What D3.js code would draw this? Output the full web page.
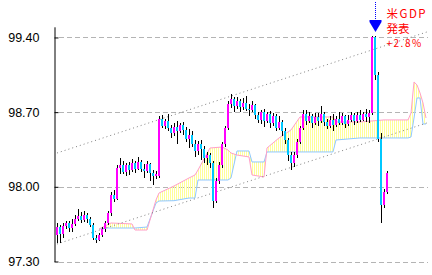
<!DOCTYPE html>
<html>
<head>
<meta charset="utf-8">
<script src="https://cdn.jsdelivr.net/npm/d3@7"></script>
<style>
  body { margin: 0; background: #fff; }
</style>
</head>
<body>
<svg id="chart" width="432" height="275"></svg>
<script>
// candles, one per bar (index 0..110)
const opens = [97.55,97.62,97.56,97.63,97.66,97.61,97.65,97.70,97.73,97.69,
  97.74,97.70,97.64,97.52,97.50,97.55,97.60,97.66,97.75,97.92,
  97.89,98.18,98.20,98.14,98.20,98.16,98.22,98.17,98.23,98.17,
  98.15,98.21,98.13,98.10,98.10,98.64,98.57,98.62,98.55,98.50,
  98.56,98.52,98.58,98.53,98.45,98.49,98.40,98.34,98.40,98.35,
  98.27,98.30,98.22,97.87,98.05,98.20,98.40,98.55,98.78,98.82,
  98.76,98.80,98.75,98.79,98.73,98.72,98.77,98.67,98.63,98.70,
  98.62,98.68,98.60,98.66,98.55,98.61,98.52,98.44,98.30,98.22,
  98.30,98.42,98.55,98.68,98.62,98.66,98.60,98.65,98.62,98.68,
  98.61,98.57,98.63,98.58,98.64,98.60,98.66,98.59,98.63,98.67,
  98.62,98.67,98.63,98.68,98.65,98.69,99.40,99.05,98.45,97.83,
  97.95];
const highs = [97.66,97.64,97.66,97.68,97.68,97.70,97.74,97.79,97.76,97.77,
  97.75,97.72,97.66,97.55,97.57,97.62,97.68,97.77,97.95,97.97,
  98.20,98.27,98.24,98.22,98.23,98.26,98.24,98.28,98.25,98.21,
  98.24,98.22,98.16,98.15,98.66,98.67,98.64,98.68,98.58,98.60,
  98.62,98.60,98.61,98.56,98.54,98.52,98.44,98.43,98.44,98.38,
  98.33,98.32,98.24,98.08,98.23,98.42,98.57,98.80,98.87,98.84,
  98.84,98.82,98.83,98.85,98.78,98.80,98.78,98.70,98.72,98.73,
  98.70,98.71,98.69,98.68,98.66,98.63,98.55,98.46,98.33,98.33,
  98.45,98.57,98.72,98.72,98.70,98.68,98.69,98.69,98.76,98.70,
  98.64,98.66,98.68,98.66,98.70,98.69,98.67,98.67,98.70,98.69,
  98.70,98.72,98.70,98.73,98.72,99.41,99.41,99.08,98.50,97.98,
  98.15];
const lows = [97.47,97.47,97.52,97.60,97.58,97.58,97.63,97.68,97.66,97.67,
  97.66,97.62,97.50,97.47,97.49,97.53,97.58,97.64,97.73,97.86,
  97.88,98.12,98.12,98.10,98.11,98.14,98.13,98.16,98.14,98.08,
  98.13,98.05,98.02,98.07,98.08,98.55,98.54,98.52,98.46,98.48,
  98.40,98.50,98.49,98.42,98.36,98.37,98.28,98.30,98.25,98.22,
  98.20,98.18,97.80,97.85,98.03,98.18,98.37,98.53,98.74,98.70,
  98.73,98.70,98.72,98.71,98.66,98.70,98.64,98.60,98.59,98.56,
  98.60,98.55,98.57,98.52,98.53,98.48,98.40,98.24,98.16,98.19,
  98.27,98.40,98.53,98.58,98.60,98.55,98.58,98.57,98.60,98.57,
  98.54,98.55,98.52,98.56,98.58,98.58,98.55,98.57,98.61,98.58,
  98.60,98.61,98.62,98.61,98.60,98.67,99.00,98.42,97.66,97.80,
  97.93];
const closes = [97.62,97.56,97.63,97.66,97.61,97.65,97.70,97.73,97.69,97.74,
  97.70,97.64,97.52,97.50,97.55,97.60,97.66,97.75,97.92,97.89,
  98.18,98.20,98.14,98.20,98.16,98.22,98.17,98.23,98.17,98.15,
  98.21,98.13,98.10,98.12,98.64,98.57,98.62,98.55,98.50,98.56,
  98.52,98.58,98.53,98.45,98.49,98.40,98.34,98.40,98.35,98.27,
  98.30,98.22,97.87,98.05,98.20,98.40,98.55,98.78,98.82,98.76,
  98.80,98.75,98.79,98.73,98.72,98.77,98.67,98.63,98.70,98.62,
  98.68,98.60,98.66,98.55,98.61,98.52,98.44,98.30,98.22,98.30,
  98.42,98.55,98.68,98.62,98.66,98.60,98.65,98.62,98.68,98.61,
  98.57,98.63,98.58,98.64,98.60,98.66,98.59,98.63,98.67,98.62,
  98.67,98.63,98.68,98.65,98.69,99.40,99.05,98.45,97.83,97.95,
  98.13];

// cloud (leading spans), sampled at these bar indexes
const cloudIdx = [14,16,18,25,26,30,33,34,39,44,46,47,51,55,57,58,60,64,65,69,70,74,78,81,92,93,101,109,117,118,119,120,121,122,123];
const spanA = [97.605,97.633,97.661,97.652,97.595,97.595,97.877,97.942,98.008,98.083,98.111,98.158,98.364,98.373,98.345,98.317,98.298,98.280,98.111,98.092,98.364,98.458,98.533,98.655,98.655,98.608,98.608,98.627,98.627,98.692,98.983,98.955,98.880,98.786,98.645];
const spanB = [97.605,97.614,97.614,97.614,97.614,97.623,97.848,97.867,97.870,97.895,97.895,98.064,98.064,98.064,98.064,98.083,98.336,98.336,98.233,98.233,98.327,98.327,98.327,98.327,98.327,98.439,98.458,98.458,98.458,98.467,98.645,98.833,98.833,98.589,98.589];

// trend channel, [bar index, price]
const trendUpper = [[0, 98.317], [124, 99.458]];
const trendLower = [[0, 97.464], [124, 98.605]];

const yTicks = [97.30, 98.00, 98.70, 99.40];

const eventIdx = 106;
const eventLines = ["米GDP", "発表", "+2.8%"];

const svg = d3.select("#chart");

const x = d3.scaleLinear().domain([0, 123]).range([57, 426]);
const y = d3.scaleLinear().domain([97.30, 99.50]).range([261.5, 26.8]);

// gridlines
svg.append("g")
  .selectAll("line")
  .data(yTicks)
  .join("line")
  .attr("x1", 59)
  .attr("x2", 428)
  .attr("y1", (d) => Math.round(y(d)) + 0.5)
  .attr("y2", (d) => Math.round(y(d)) + 0.5)
  .attr("stroke", "#b4b4b4")
  .attr("stroke-dasharray", "5,3");

// cloud fill with vertical hatch
const defs = svg.append("defs");
defs.append("pattern")
  .attr("id", "hatch")
  .attr("patternUnits", "userSpaceOnUse")
  .attr("width", 2)
  .attr("height", 4)
  .append("rect")
  .attr("width", 1)
  .attr("height", 4)
  .attr("fill", "#ffff99");

const cloud = cloudIdx.map((d, i) => ({ i: d, a: spanA[i], b: spanB[i] }));

svg.append("path")
  .datum(cloud)
  .attr("fill", "url(#hatch)")
  .attr("d", d3.area().x((d) => x(d.i)).y0((d) => y(d.b)).y1((d) => y(d.a)));

svg.append("path")
  .datum(cloud)
  .attr("fill", "none")
  .attr("stroke", "#90c8ff")
  .attr("d", d3.line().x((d) => x(d.i)).y((d) => y(d.b)));

svg.append("path")
  .datum(cloud)
  .attr("fill", "none")
  .attr("stroke", "#ffa0c8")
  .attr("d", d3.line().x((d) => x(d.i)).y((d) => y(d.a)));

// trend channel
svg.append("g")
  .selectAll("path")
  .data([trendUpper, trendLower])
  .join("path")
  .attr("fill", "none")
  .attr("stroke", "#808080")
  .attr("stroke-dasharray", "1,3")
  .attr("d", d3.line().x((d) => x(d[0])).y((d) => y(d[1])));

// candles
const bars = closes.map((c, i) => ({ i, o: opens[i], h: highs[i], l: lows[i], c }));
const candleG = svg.append("g").attr("shape-rendering", "crispEdges");

candleG.selectAll(".wick")
  .data(bars)
  .join("rect")
  .attr("class", "wick")
  .attr("x", (d) => Math.round(x(d.i)))
  .attr("y", (d) => y(d.h))
  .attr("width", 1)
  .attr("height", (d) => y(d.l) - y(d.h))
  .attr("fill", "#000");

candleG.selectAll(".body")
  .data(bars)
  .join("rect")
  .attr("class", "body")
  .attr("x", (d) => Math.round(x(d.i)) - 1)
  .attr("y", (d) => y(Math.max(d.o, d.c)))
  .attr("width", 2)
  .attr("height", (d) => Math.max(1, Math.abs(y(d.o) - y(d.c))))
  .attr("fill", (d) => (d.c >= d.o ? "#ff00ff" : "#00c8ff"));

// y axis
svg.append("g")
  .attr("transform", "translate(54.5,0)")
  .call(d3.axisLeft(y).tickValues(yTicks).tickSize(-4).tickSizeOuter(0).tickPadding(15).tickFormat(d3.format(".2f")))
  .call((g) => g.selectAll("line,path").attr("stroke", "#000"))
  .call((g) => g.selectAll("text")
    .attr("fill", "#000")
    .style("font-family", "'Liberation Sans Narrow', 'Arial Narrow', 'Liberation Sans', sans-serif")
    .style("font-size", "12.5px"));

// event marker
const ex = Math.round(x(eventIdx)) + 0.5;
svg.append("line")
  .attr("x1", ex).attr("x2", ex)
  .attr("y1", 2).attr("y2", 20)
  .attr("stroke", "#0000ff")
  .attr("stroke-dasharray", "1,1");
svg.append("path")
  .attr("d", `M${ex - 6},20 H${ex + 6} V22 L${ex},32 L${ex - 6},22 Z`)
  .attr("fill", "#0000ff");

svg.append("g")
  .selectAll("text")
  .data(eventLines)
  .join("text")
  .attr("x", ex + 11)
  .attr("y", (d, i) => 18 + i * 14.5)
  .attr("fill", "#ff0000")
  .style("font-family", "'Noto Sans CJK JP', sans-serif")
  .style("font-size", (d, i) => (i === 2 ? "10px" : "11.5px"))
  .style("letter-spacing", (d, i) => (i === 1 ? "0px" : "1.5px"))
  .text((d) => d);
</script>
</body>
</html>
